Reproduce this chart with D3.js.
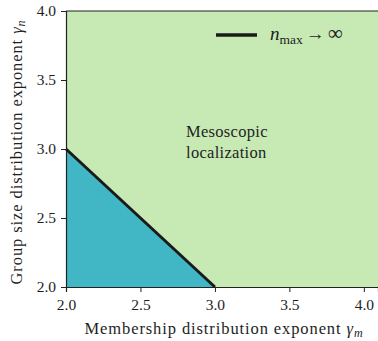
<html>
<head>
<meta charset="utf-8">
<title>phase diagram</title>
<style>
  body { margin: 0; background: #fff; }
  svg text { font-family: "Liberation Serif", "DejaVu Serif", serif; fill: #1e1e1e; }
  .axis path, .axis line { stroke: #222; }
  .axis text { font-size: 15.5px; font-family: "Liberation Serif", serif; }
</style>
</head>
<body>
<script src="https://cdn.jsdelivr.net/npm/d3@7"></script>
<script>
var width = 378, height = 341;
var margin = {left: 66, right: 0, top: 11, bottom: 54};

// boundary n_max -> infinity : gamma_n = 5 - gamma_m
var boundaryX = [2.0, 3.0];
var boundaryY = [3.0, 2.0];
var xTicks = [2.0, 2.5, 3.0, 3.5, 4.0];
var yTicks = [2.0, 2.5, 3.0, 3.5, 4.0];
var xDomain = [2.0, 4.095];
var yDomain = [2.0, 4.0];

var svg = d3.select('body').append('svg')
  .attr('width', width).attr('height', height);

var x = d3.scaleLinear().domain(xDomain).range([margin.left, width - margin.right]);
var y = d3.scaleLinear().domain(yDomain).range([height - margin.bottom, margin.top]);

// background region (localization)
svg.append('rect')
  .attr('x', x(xDomain[0])).attr('y', y(yDomain[1]))
  .attr('width', x(xDomain[1]) - x(xDomain[0]))
  .attr('height', y(yDomain[0]) - y(yDomain[1]))
  .attr('fill', '#c7e9b4');

// lower triangle
var tri = [[boundaryX[0], yDomain[0]], [boundaryX[0], boundaryY[0]], [boundaryX[1], boundaryY[1]]];
svg.append('path')
  .attr('d', d3.line().x(function(d){ return x(d[0]); }).y(function(d){ return y(d[1]); })(tri) + 'Z')
  .attr('fill', '#41b6c4');

svg.append('line')
  .attr('x1', x(boundaryX[0])).attr('y1', y(boundaryY[0]))
  .attr('x2', x(boundaryX[1])).attr('y2', y(boundaryY[1]))
  .attr('stroke', '#1a1a1a').attr('stroke-width', 3);

// top spine
svg.append('line').attr('x1', x(xDomain[0])).attr('x2', width)
  .attr('y1', y(yDomain[1])).attr('y2', y(yDomain[1]))
  .attr('stroke', '#222').attr('stroke-width', 1.2);

svg.append('g').attr('class', 'axis')
  .attr('transform', 'translate(0,' + y(yDomain[0]) + ')')
  .call(d3.axisBottom(x).tickValues(xTicks).tickFormat(d3.format('.1f')).tickSize(5).tickPadding(7));

svg.append('g').attr('class', 'axis')
  .attr('transform', 'translate(' + x(xDomain[0]) + ',0)')
  .call(d3.axisLeft(y).tickValues(yTicks).tickFormat(d3.format('.1f')).tickSize(5).tickPadding(5));

svg.selectAll('.axis .domain').attr('stroke-width', 1.2);

// legend
svg.append('line')
  .attr('x1', 216).attr('x2', 257).attr('y1', 35).attr('y2', 35)
  .attr('stroke', '#1a1a1a').attr('stroke-width', 3.5);
var lg = svg.append('text').attr('x', 270).attr('y', 40).attr('font-size', 19);
lg.append('tspan').attr('font-style', 'italic').text('n');
lg.append('tspan').attr('font-size', 13.5).attr('dy', 4).text('max');
lg.append('tspan').attr('dy', -4).attr('dx', 3).text('\u2192');
lg.append('tspan').attr('dx', 3).attr('font-size', 21).text('\u221E');

// annotation
svg.append('text').attr('x', 186).attr('y', 137).attr('font-size', 16.5).attr('letter-spacing', 0.3).text('Mesoscopic');
svg.append('text').attr('x', 186).attr('y', 158).attr('font-size', 16.5).attr('letter-spacing', 0.3).text('localization');

// axis labels
var xl = svg.append('text').attr('x', 224).attr('y', 334)
  .attr('text-anchor', 'middle').attr('font-size', 16.5).attr('letter-spacing', 0.9);
xl.append('tspan').text('Membership distribution exponent ');
xl.append('tspan').attr('font-style', 'italic').text('\u03B3');
xl.append('tspan').attr('font-style', 'italic').attr('font-size', 12).attr('dy', 3).text('m');

var yl = svg.append('text')
  .attr('transform', 'translate(22,152) rotate(-90)')
  .attr('text-anchor', 'middle').attr('font-size', 16.5).attr('letter-spacing', 0.9);
yl.append('tspan').text('Group size distribution exponent ');
yl.append('tspan').attr('font-style', 'italic').text('\u03B3');
yl.append('tspan').attr('font-style', 'italic').attr('font-size', 12).attr('dy', 3).text('n');
</script>
</body>
</html>
